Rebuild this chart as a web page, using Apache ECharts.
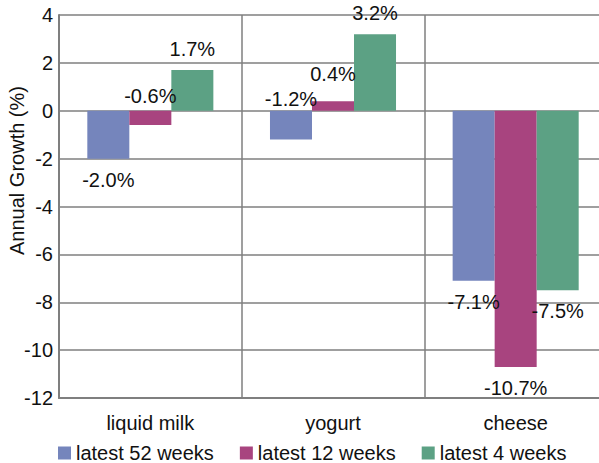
<!DOCTYPE html>
<html lang="en">
<head>
    <meta charset="UTF-8">
    <title>Annual Growth</title>
    <script src="https://cdn.jsdelivr.net/npm/echarts@6/dist/echarts.min.js"></script>
    <style type="text/css">
        html, body {
            margin: 0;
            height: 100%;
            background: #fff;
        }
    </style>
</head>
<body>

<div id="main" style="width: 599px;height:463px;"></div>

<script>
    const categories = ['liquid milk', 'yogurt', 'cheese'];
    const seriesNames = ['latest 52 weeks', 'latest 12 weeks', 'latest 4 weeks'];
    const weeks52 = [-2.0, -1.2, -7.1];
    const weeks12 = [-0.6, 0.4, -10.7];
    const weeks4 = [1.7, 3.2, -7.5];
    const yTicks = [-12, -10, -8, -6, -4, -2, 0, 2, 4];

    const colors = ['#7585bc', '#a8447f', '#5ca184'];
    const font = 'Liberation Sans, Arial, sans-serif';

    // labels that sit above the zero line / further away, as in the original
    const labelTweaks = {
        '1-0': {position: 'top', distance: 5},
        '0-1': {position: 'top', distance: 2},
        '1-1': {position: 'top', distance: 17}
    };

    function buildData(values, s) {
        return values.map(function (v, i) {
            const t = labelTweaks[s + '-' + i];
            return {
                value: v,
                label: {
                    position: t ? t.position : (v >= 0 ? 'top' : 'bottom'),
                    distance: t ? t.distance : 11
                }
            };
        });
    }

    const myChart = echarts.init(document.getElementById('main'), null, {renderer: 'svg'});
    const option = {
        animation: false,
        textStyle: {fontFamily: font},
        grid: {left: 59, right: -8, top: 15, bottom: 65, outerBoundsMode: 'none', containLabel: false},
        legend: {
            bottom: -5,
            left: 53,
            icon: 'rect',
            itemWidth: 13,
            itemHeight: 13,
            itemGap: 26,
            textStyle: {fontSize: 20, color: '#111', fontFamily: font},
            data: seriesNames
        },
        xAxis: {
            type: 'category',
            data: categories,
            axisLine: {onZero: false, lineStyle: {color: '#7f7f7f', width: 2}},
            axisTick: {show: false},
            axisLabel: {fontSize: 20, color: '#111', margin: 15, fontFamily: font},
            splitLine: {show: true, lineStyle: {color: '#7f7f7f', width: 1.5}}
        },
        yAxis: {
            type: 'value',
            min: yTicks[0],
            max: yTicks[yTicks.length - 1],
            interval: 2,
            name: 'Annual Growth (%)',
            nameLocation: 'middle',
            nameGap: 32,
            nameMoveOverlap: false,
            nameTextStyle: {fontSize: 20, color: '#111', fontFamily: font, padding: [0, 0, 0, 72]},
            axisLine: {show: true, lineStyle: {color: '#7f7f7f', width: 2}},
            axisTick: {show: false},
            axisLabel: {fontSize: 20, color: '#111', margin: 6, fontFamily: font},
            splitLine: {lineStyle: {color: '#7f7f7f', width: 1.5}}
        },
        series: [weeks52, weeks12, weeks4].map(function (vals, s) {
            return {
                name: seriesNames[s],
                type: 'bar',
                barGap: '0%',
                barCategoryGap: '31%',
                itemStyle: {color: colors[s]},
                label: {
                    show: true,
                    fontSize: 20,
                    color: '#111',
                    fontFamily: font,
                    formatter: function (p) {
                        return p.value.toFixed(1) + '%';
                    }
                },
                data: buildData(vals, s)
            };
        })
    };

    myChart.setOption(option);
</script>
</body>
</html>
